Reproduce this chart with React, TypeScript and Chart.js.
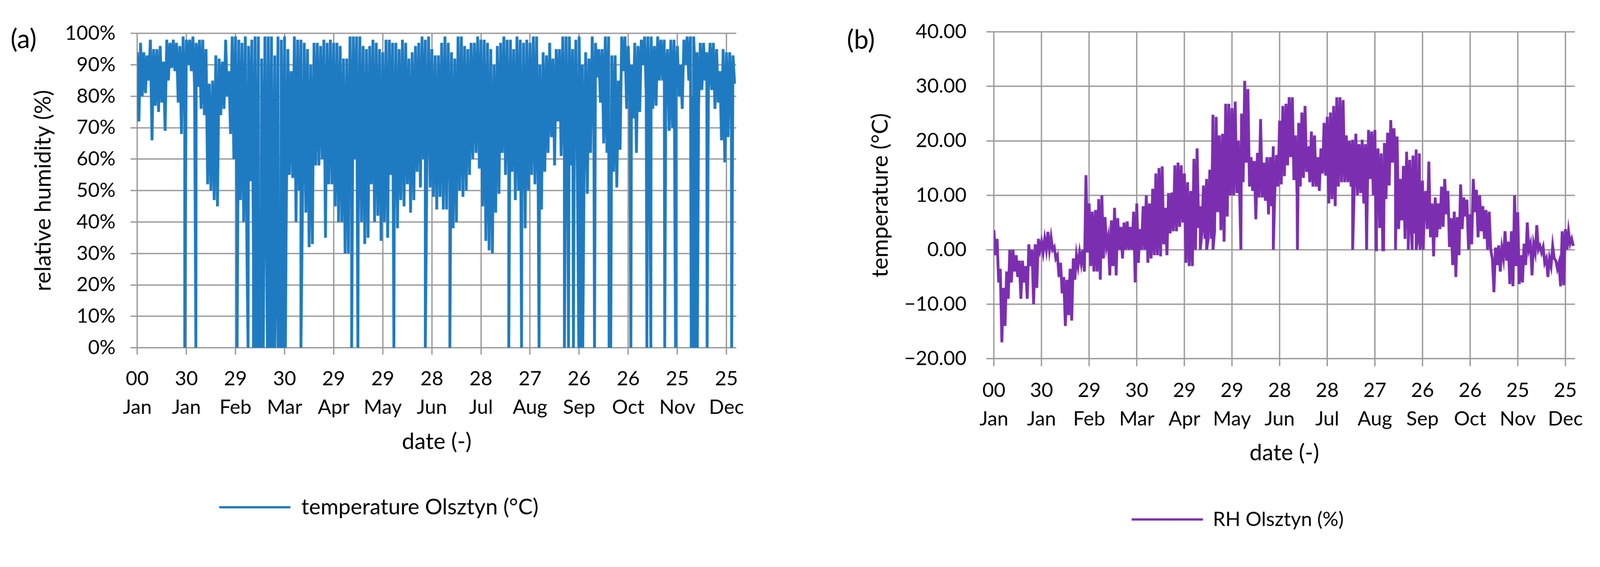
import React, { useEffect, useRef } from "react";
import { Chart, registerables } from "chart.js";

Chart.register(...registerables);

// ---------- shared axis data ----------
const xTickDays = [0, 30, 60, 90, 120, 150, 180, 210, 240, 270, 300, 330, 360];
const xTickDayLabels = ["00", "30", "29", "30", "29", "29", "28", "28", "27", "26", "26", "25", "25"];
const xTickMonthLabels = ["Jan", "Jan", "Feb", "Mar", "Apr", "May", "Jun", "Jul", "Aug", "Sep", "Oct", "Nov", "Dec"];
const BLOCK_DAYS = 2; // each high/low pair below covers two days

// ---------- chart (a): relative humidity (%) ----------
const rhHigh = [
  94, 97, 94, 93, 98, 95, 95, 96, 91, 98, 97, 98, 97, 96, 99, 98, 98, 99, 97, 98,
  98, 95, 84, 85, 93, 92, 91, 98, 88, 99, 99, 98, 97, 99, 96, 98, 99, 99, 92, 99,
  99, 99, 93, 99, 98, 99, 95, 88, 99, 98, 98, 97, 95, 90, 97, 97, 96, 98, 97, 98,
  97, 97, 96, 92, 92, 99, 99, 99, 99, 96, 95, 96, 98, 97, 95, 94, 98, 98, 97, 97,
  95, 98, 97, 92, 94, 96, 97, 99, 98, 99, 95, 93, 93, 97, 99, 97, 94, 92, 99, 99,
  96, 95, 97, 97, 99, 98, 98, 97, 95, 90, 96, 97, 99, 98, 98, 95, 99, 98, 97, 98,
  97, 99, 99, 90, 94, 93, 97, 92, 95, 95, 99, 99, 99, 95, 98, 99, 90, 94, 92, 99,
  97, 95, 95, 99, 99, 93, 93, 85, 99, 99, 96, 90, 97, 96, 98, 99, 99, 99, 96, 99,
  98, 98, 95, 98, 98, 96, 90, 98, 99, 99, 99, 94, 97, 97, 94, 97, 97, 95, 88, 95,
  94, 94, 93,
];
const rhLow = [
  72, 80, 81, 85, 66, 77, 75, 78, 69, 85, 89, 88, 78, 68, 75, 90, 88, 83, 83, 76,
  74, 52, 50, 47, 45, 74, 76, 80, 68, 60, 45, 47, 40, 30, 53, 30, 30, 30, 27, 30,
  28, 28, 35, 30, 30, 40, 55, 54, 40, 50, 49, 43, 32, 33, 58, 58, 60, 35, 52, 52,
  45, 40, 40, 30, 30, 55, 60, 40, 40, 33, 35, 52, 40, 42, 34, 40, 35, 55, 42, 38,
  47, 45, 52, 43, 47, 56, 51, 60, 60, 51, 48, 44, 48, 44, 44, 50, 38, 40, 50, 48,
  50, 55, 60, 62, 57, 45, 34, 31, 30, 43, 49, 62, 55, 54, 56, 47, 50, 49, 38, 50,
  55, 52, 48, 44, 56, 62, 67, 58, 72, 61, 60, 60, 58, 66, 50, 62, 54, 49, 62, 70,
  86, 78, 65, 62, 64, 56, 51, 63, 88, 76, 80, 73, 62, 75, 90, 80, 77, 76, 77, 85,
  85, 86, 69, 70, 85, 80, 76, 90, 85, 80, 85, 77, 82, 85, 82, 82, 76, 78, 66, 59,
  67, 80, 84,
];
const rhZeroDays = [
  29, 35.8, 61, 67.7, 71, 72.5, 74, 75.5, 77, 79.5, 81, 82.5, 84, 86, 87.5, 89, 90.5,
  100, 131, 134.8, 156.8, 176, 191, 227, 234.8, 245.5, 261, 263.5, 266.5, 269.8, 271,
  272.2, 279.4, 288.3, 289.3, 301.6, 311.4, 313.8, 322.3, 328.9, 338.5, 339.7, 341,
  342.2, 348.2, 363.2,
];

// ---------- chart (b): temperature (°C) ----------
const tHigh = [
  3.6, 2, -3.5, -7, -4, 0, 0, -1, -2, -2, -3, 1, 0, 1, 2, 1.5, 2, 3.3, 2.3, 0.5,
  -1, -2.4, -5, -5.5, -3.5, -1.6, -1, -0.5, 0, 13.7, 8.5, 7, 7.3, 9.3, 10, 6, 2.3, 5.4, 7.7, 5.8,
  4.2, 5, 5.2, 4.2, 7, 8.5, 3.8, 8, 10, 8.5, 11.2, 14, 15, 15.3, 7.7, 10.4, 10.5, 15.5, 16, 15.5,
  14, 12.4, 10.8, 16.7, 18.6, 8, 11.8, 13, 14.7, 24.8, 24.4, 21, 21.3, 26.8, 26.8, 26, 27.2, 20, 25, 31,
  29.5, 17, 16.3, 17.8, 24, 16, 17, 17, 19, 17.4, 23.7, 26.4, 26.8, 28, 28, 21, 23.3, 25.2, 26.4, 19,
  21.7, 21, 17, 18.6, 23.3, 24.4, 25.2, 26.4, 28, 28, 27.5, 21, 20, 20.2, 21.3, 19.4, 20.2, 19.4, 22, 21.7,
  22, 18.6, 17.7, 19.6, 21.5, 23.8, 22.3, 20.8, 13, 15.4, 18, 16.5, 17.3, 18.4, 17.7, 12.7, 10.8, 16.2, 8.5, 9.6,
  8.5, 11.6, 13, 10.8, 5.8, 7, 6, 12, 9.6, 9.2, 6.5, 13, 11, 10, 8, 7.3, 7, -1.6, 0.4, 0.8,
  0.3, 3.4, 1.5, 3.4, 10, 6.9, -1, 1.1, 5, 1.1, 1, 4.5, 0.7, 0.5, -1.6, -1.6, 0.7, -2, -2.4, 3.4,
  3.8, 3.4, 2,
];
const tLow = [
  -1, -6, -17, -14, -9, -6, -4, -5, -9, -6, -9, -3, -10, -7, 0, -0.5, 0, 0, 0, -1.6,
  -5, -8, -14, -12, -13, -5.5, -3, -2.5, -4, -0.5, -3, -4, -4, -5.5, -1.6, 0.7, -4.7, -3, -4.7, 0,
  -1.6, 0, 0, 0, -6, -2.4, 0, 0, -2.4, -1.6, -1, -1, -1.2, 1, -1, 3, 3.4, 3.4, 4.2, 5,
  -2.4, -3, -3, 0, 4, 3, 2, 2, 2, 3.4, 6.9, 3.6, 1.5, 6.1, 10, 10, 10.4, 8, 12.4, 16,
  11.6, 10.8, 5.6, 9.6, 9.6, 9, 6.5, 8, 10.8, 11.6, 12, 13.5, 15.5, 17, 12.8, 10, 11.6, 13.2, 14.3, 12.4,
  11.6, 11.6, 10.8, 14, 13.6, 8.5, 9.3, 8, 11.6, 12.4, 12.4, 12.4, 11.6, 11.2, 10, 10.4, 8.5, 5.4, 13, 10,
  11, 4, 0, 9.3, 11.8, 16, 15.3, 3.8, 5.4, 2, 3, 3, 3, 2, 2, 5.7, 3.8, 2.3, -1.2, 2.3,
  3.8, 4.2, 6.5, 0.5, -2.8, -5, -1, 3.8, 6.1, 0, 1, 6.9, 2.3, 3.4, 2, 0, 0, -7.8, -2.8, -4,
  -1.6, -2, -6.3, -6.7, -3, -6.3, -6, -2.8, 0, -4.7, -0.5, 0, -0.5, -2.4, -5, -3, -1.6, -3.5, -6.7, -6.5,
  0, 1.1, 0.7,
];
const tZeroDays = [130, 134, 138, 155.6, 176, 191.2, 226, 234.8, 240.8, 245.5, 253, 261, 263.5, 266, 268.5, 270.5];

// ---------- helpers ----------
type Pt = { x: number; y: number };
function buildSeries(high: number[], low: number[], zeroDays: number[]): Pt[] {
  const pts: Pt[] = [];
  high.forEach((h, i) => {
    pts.push({ x: i * BLOCK_DAYS, y: h });
    pts.push({ x: i * BLOCK_DAYS + BLOCK_DAYS / 2, y: low[i] });
  });
  zeroDays.forEach((d) => pts.push({ x: d, y: 0 }));
  pts.sort((a, b) => a.x - b.x);
  return pts;
}

const FONT = "Lato";
const GRID = "#999999";
const TEXT = "#000000";
const PAGE_W = 4266;
const PAGE_H = 1451;
const TICK_FONT = 53;
const TITLE_FONT = 60;

type PanelCfg = {
  width: number;
  height: number;
  pad: { left: number; right: number; top: number; bottom: number };
  yAxisWidth: number;
  xAxisHeight: number;
  tickLen: number;
  yLabelPad: number;
  yTitlePad: number;
  yMin: number;
  yMax: number;
  yFmt: (v: number) => string;
  yTitle: string;
  legendText: string;
  legendFont: number;
  color: string;
  data: Pt[];
  legendPad: number;
};

function Panel({ cfg, left }: { cfg: PanelCfg; left: number }) {
  const ref = useRef<HTMLCanvasElement | null>(null);
  useEffect(() => {
    if (!ref.current) return;
    const chart = new Chart(ref.current, {
      type: "line",
      data: {
        datasets: [
          {
            label: cfg.legendText,
            data: cfg.data,
            borderColor: cfg.color,
            backgroundColor: cfg.color,
            borderWidth: 7.5,
            pointRadius: 0,
            tension: 0,
            fill: false,
          },
        ],
      },
      options: {
        animation: false,
        responsive: false,
        devicePixelRatio: 1,
        layout: { padding: cfg.pad },
        plugins: {
          tooltip: { enabled: false },
          legend: {
            position: "bottom",
            labels: {
              boxWidth: 190,
              boxHeight: 6,
              padding: cfg.legendPad,
              color: TEXT,
              font: { family: FONT, size: cfg.legendFont },
              generateLabels: (ch: any) =>
                ch.data.datasets.map((ds: any, i: number) => ({
                  text: ds.label,
                  fillStyle: ds.borderColor,
                  strokeStyle: ds.borderColor,
                  lineWidth: 0,
                  hidden: false,
                  datasetIndex: i,
                  fontColor: TEXT,
                })),
            },
          },
        },
        scales: {
          x: {
            type: "linear",
            min: 0,
            max: 366,
            afterBuildTicks: (scale: any) => {
              scale.ticks = xTickDays.map((v) => ({ value: v }));
            },
            afterFit: (scale: any) => {
              scale.height = cfg.xAxisHeight;
            },
            ticks: {
              autoSkip: false,
              maxRotation: 0,
              minRotation: 0,
              padding: 26,
              color: TEXT,
              font: { family: FONT, size: TICK_FONT, lineHeight: 1.45 },
              callback: (v: any) => {
                const i = xTickDays.indexOf(Number(v));
                return i >= 0 ? [xTickDayLabels[i], xTickMonthLabels[i]] : "";
              },
            },
            grid: { color: GRID, lineWidth: 3.5, tickLength: cfg.tickLen, drawTicks: true },
            border: { display: false },
            title: {
              display: true,
              text: "date (-)",
              color: TEXT,
              font: { family: FONT, size: TITLE_FONT },
              padding: { top: 0, bottom: -4 },
            },
          },
          y: {
            min: cfg.yMin,
            max: cfg.yMax,
            afterFit: (scale: any) => {
              scale.width = cfg.yAxisWidth;
            },
            ticks: {
              stepSize: 10,
              padding: cfg.yLabelPad,
              color: TEXT,
              font: { family: FONT, size: TICK_FONT },
              callback: (v: any) => cfg.yFmt(Number(v)),
            },
            grid: { color: GRID, lineWidth: 3.5, tickLength: cfg.tickLen, drawTicks: true },
            border: { display: false },
            title: {
              display: true,
              text: cfg.yTitle,
              color: TEXT,
              font: { family: FONT, size: TITLE_FONT },
              padding: { top: cfg.yTitlePad, bottom: 0 },
            },
          },
        },
      } as any,
    });
    return () => chart.destroy();
  }, []);
  return (
    <canvas
      ref={ref}
      width={cfg.width}
      height={cfg.height}
      style={{ position: "absolute", left, top: 0, width: cfg.width, height: cfg.height }}
    />
  );
}

const panelA: PanelCfg = {
  width: 2100,
  height: 1451,
  pad: { left: 57, right: 137, top: 89, bottom: 60 },
  yAxisWidth: 309,
  xAxisHeight: 283,
  tickLen: 18,
  yLabelPad: 40,
  yTitlePad: 23,
  yMin: 0,
  yMax: 100,
  yFmt: (v) => `${v}%`,
  yTitle: "relative humidity (%)",
  legendText: "temperature Olsztyn (°C)",
  legendFont: 58,
  color: "#1f7bc1",
  data: buildSeries(rhHigh, rhLow, rhZeroDays),
  legendPad: 113,
};

const panelB: PanelCfg = {
  width: 2133,
  height: 1451,
  pad: { left: 268, right: 67, top: 85, bottom: 30 },
  yAxisWidth: 249,
  xAxisHeight: 284,
  tickLen: 20,
  yLabelPad: 53,
  yTitlePad: -89,
  yMin: -20,
  yMax: 40,
  yFmt: (v) => v.toFixed(2).replace("-", "\u2212"),
  yTitle: "temperature (°C)",
  legendText: "RH Olsztyn (%)",
  legendFont: 53,
  color: "#7b2fb0",
  data: buildSeries(tHigh, tLow, tZeroDays),
  legendPad: 118,
};

export default function App() {
  const vw = typeof window !== "undefined" && window.innerWidth ? window.innerWidth : PAGE_W;
  const k = PAGE_W / vw; // screenshot px per CSS px
  const labelStyle: React.CSSProperties = {
    position: "absolute",
    fontFamily: FONT,
    fontSize: 70,
    lineHeight: "70px",
    color: TEXT,
  };
  return (
    <div
      style={{
        position: "absolute",
        left: 0,
        top: 0,
        width: PAGE_W / k,
        height: PAGE_H / k,
        overflow: "hidden",
        background: "#fff",
      }}
    >
      <div
        style={{
          position: "absolute",
          left: 0,
          top: 0,
          width: PAGE_W,
          height: PAGE_H,
          transform: `scale(${1 / k})`,
          transformOrigin: "0 0",
          background: "#fff",
        }}
      >
        <Panel cfg={panelA} left={0} />
        <Panel cfg={panelB} left={2133} />
        <div style={{ ...labelStyle, left: 28, top: 66 }}>(a)</div>
        <div style={{ ...labelStyle, left: 2258, top: 68 }}>(b)</div>
      </div>
    </div>
  );
}
